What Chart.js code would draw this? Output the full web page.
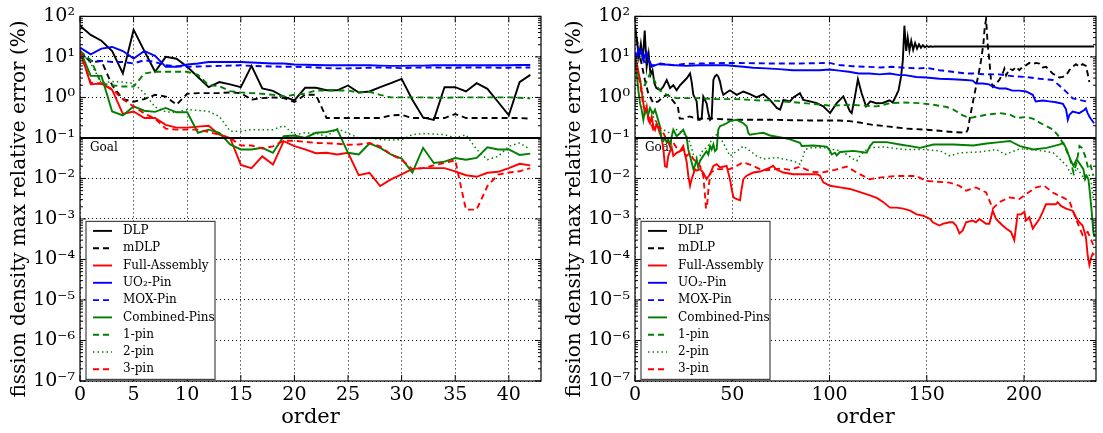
<!DOCTYPE html>
<html>
<head>
<meta charset="utf-8">
<script src="https://cdn.jsdelivr.net/npm/chart.js@4.4.0/dist/chart.umd.min.js"></script>
<style>
  body { margin: 0; background: #fff; }
  #wrap { position: relative; width: 1103px; height: 433px; }
  canvas { position: absolute; top: 0; }
  #leftChart { left: 0; }
  #rightChart { left: 552px; }
</style>
</head>
<body>
<div id="wrap">
  <canvas id="leftChart" width="552" height="433" style="width:552px;height:433px"></canvas>
  <canvas id="rightChart" width="551" height="433" style="width:551px;height:433px"></canvas>
</div>
<script>
const SERIF = "'DejaVu Serif', 'Liberation Serif', serif";

// legend / styles
const seriesNames = ["DLP", "mDLP", "Full-Assembly", "UO\u2082-Pin", "MOX-Pin", "Combined-Pins", "1-pin", "2-pin", "3-pin"];
const seriesColors = ["#000000", "#000000", "#ff0000", "#0000ff", "#0000ff", "#008000", "#008000", "#008000", "#ff0000"];
const seriesDash = [[], [6, 4], [], [], [6, 4], [], [6, 4], [1.5, 3], [6, 4]];
const seriesWidth = [1.9, 1.9, 1.9, 1.9, 1.9, 1.9, 1.9, 1.5, 1.9];

const yTitle = "fission density max relative error (%)";
const yTickExponents = [2, 1, 0, -1, -2, -3, -4, -5, -6, -7];
const leftXTicks = [0, 5, 10, 15, 20, 25, 30, 35, 40];
const rightXTicks = [0, 50, 100, 150, 200];
const goalValue = 0.1;

// left panel: order 0..42
const leftOrder = [0,1,2,3,4,5,6,7,8,9,10,11,12,13,14,15,16,17,18,19,20,21,22,23,24,25,26,27,28,29,30,31,32,33,34,35,36,37,38,39,40,41,42];
const leftDLP = [59,35,25,14,3.9,47,14,4.3,10,9,5.7,3.2,1.8,2.4,2.1,1.8,6,1.66,1.45,1.04,0.85,1.73,1.73,1.5,1.5,1.97,1.32,1.4,1.79,2.24,2.87,0.88,0.32,0.28,1.79,1.79,1.4,2.24,1.63,0.77,0.36,2.38,3.6];
const leftMDLP = [14,7.4,7.9,2.0,0.91,0.78,0.91,1.16,1.05,0.66,1.23,1.28,1.28,1.28,1.33,1.28,0.88,0.96,1.0,0.96,0.77,1.16,1.16,0.31,0.31,0.31,0.31,0.31,0.31,0.36,0.37,0.31,0.31,0.31,0.31,0.39,0.31,0.31,0.31,0.31,0.31,0.31,0.30];
const leftFull = [14,2.1,2.2,1.54,0.39,0.45,0.31,0.31,0.21,0.18,0.18,0.19,0.20,0.12,0.10,0.0216,0.018,0.035,0.022,0.083,0.063,0.052,0.042,0.043,0.039,0.043,0.012,0.0138,0.0065,0.0095,0.0126,0.0172,0.018,0.018,0.018,0.015,0.012,0.011,0.0138,0.0146,0.018,0.023,0.021];
const leftUO2 = [17,11.6,16,17.6,14,9.1,14,10.6,5.7,5.7,6.5,6.9,7.5,7.5,7.5,7.5,7.3,7.1,6.9,6.9,6.5,6.4,6.3,6.2,6.2,6.2,6.2,6.2,6.1,6.0,6.0,6.1,6.1,6.2,6.2,6.2,6.2,6.2,6.2,6.2,6.2,6.3,6.3];
const leftMOX = [13,8,8,7.5,7.5,6.9,8.3,7.5,6.2,5.9,5.7,5.8,5.9,6.0,6.1,6.2,6.0,5.9,5.8,5.7,5.7,5.6,5.5,5.3,5.2,5.2,5.3,5.4,5.5,5.4,5.3,5.4,5.5,5.5,5.4,5.4,5.5,5.5,5.5,5.4,5.4,5.5,5.5];
const leftComb = [14.7,3.4,3.4,0.45,0.36,0.60,0.47,0.44,0.55,0.43,0.43,0.134,0.16,0.134,0.069,0.052,0.052,0.057,0.043,0.11,0.115,0.10,0.134,0.14,0.16,0.043,0.039,0.073,0.057,0.039,0.031,0.014,0.057,0.024,0.026,0.032,0.029,0.032,0.059,0.052,0.052,0.038,0.041];
const left1pin = [14,8.4,2.2,2.0,1.86,1.86,3.9,4.3,4.3,4.3,4.3,3.6,2.0,1.9,1.43,1.33,1.28,1.23,1.16,1.06,1.16,1.23,1.48,1.48,1.48,1.48,1.32,1.38,1.16,1.0,1.0,1.0,1.0,0.98,0.98,1.0,1.0,1.0,1.0,1.0,1.0,0.98,0.95];
const left2pin = [14,6.9,2.3,2.46,2.4,2.2,1.28,0.58,0.44,0.43,0.50,0.48,0.45,0.34,0.147,0.147,0.16,0.16,0.16,0.20,0.12,0.134,0.13,0.11,0.17,0.13,0.10,0.10,0.091,0.088,0.091,0.12,0.128,0.125,0.12,0.10,0.12,0.052,0.029,0.035,0.062,0.075,0.052];
const left3pin = [14,2.3,2.2,1.6,0.9,0.6,0.4,0.3,0.17,0.16,0.16,0.16,0.14,0.12,0.10,0.065,0.065,0.055,0.062,0.085,0.085,0.08,0.075,0.074,0.072,0.068,0.069,0.075,0.062,0.039,0.029,0.017,0.018,0.021,0.024,0.028,0.0017,0.0017,0.0065,0.0125,0.014,0.015,0.018];

// right panel: [order, value]
const rightDLP = [[0,59],[1,25],[2,10],[3,21],[4,8.3],[5,45],[6,5.7],[7,12],[8,3.6],[9,4.7],[10,2.2],[11,1.7],[13,1.5],[14.6,1.86],[16.3,2.7],[18,1.7],[19.7,2.0],[21.4,1.5],[23.1,2.0],[26.6,2.97],[28.3,3.9],[29.1,2.46],[30,1.16],[31.7,0.8],[32.5,0.28],[33.4,0.28],[34.3,0.31],[35.1,1.05],[36.8,0.72],[37.7,0.41],[38.6,0.28],[39.4,0.31],[40.3,2.7],[41.1,3.3],[42,3.6],[42.8,3.3],[43.7,2.46],[44.6,1.5],[45.4,1.16],[48.8,1.5],[52.3,1.16],[55.7,1.4],[59.1,1.2],[62.5,1.0],[66,1.2],[69.4,0.87],[72.9,0.55],[74.6,0.5],[76.3,0.87],[79.7,0.8],[81.4,1.0],[84.8,1.27],[86.5,0.87],[90,0.8],[93.4,0.72],[96.8,0.6],[100.3,0.41],[103.7,0.72],[107.1,1.06],[110.5,0.45],[111.4,0.41],[113,1.0],[114.6,2.8],[116.5,1.27],[118.8,0.6],[121,0.8],[124,0.72],[127.4,0.73],[130.8,0.85],[132.5,0.75],[134.2,1.1],[135.5,1.5],[136.8,3.3],[137.7,8.2],[138.5,59],[139.4,14],[140.2,30],[141.1,14.5],[142,25],[143,15],[144,22],[145,16],[146,20.5],[147,16.8],[148,19.5],[149,17.3],[150,18.6],[151,17.6],[152,18.3],[153,17.8],[154,18.1],[156,18],[236,18]];
const rightMDLP = [[0,50],[1.7,17],[3.4,6.7],[5.1,2.7],[6.8,1.27],[9.4,0.72],[12,0.8],[14.5,1.05],[17,1.15],[19,0.88],[20.5,0.72],[22,0.6],[23,0.3],[25,0.3],[28,0.34],[31.6,0.3],[40,0.3],[50,0.28],[70,0.28],[90,0.27],[105,0.27],[110.3,0.26],[115.4,0.24],[122.3,0.21],[130.8,0.19],[139.4,0.17],[149.7,0.16],[156.5,0.15],[163.4,0.14],[170.2,0.135],[171.1,0.16],[172.3,0.34],[173.6,0.72],[175.3,1.84],[177,4.7],[177.9,8.2],[179.1,21],[179.8,54],[180.5,86],[181.3,21],[182.2,8.2],[183,2.7],[183.9,1.84],[185.6,2.2],[187.3,2.7],[189,3.9],[189.9,5.1],[190.8,3.5],[192.5,5.1],[194.2,4.7],[195.9,5.7],[197.6,4.7],[199.3,5.7],[201,6.2],[202.7,7.1],[204.5,6.6],[206.2,7.1],[207.9,6.8],[209.6,5.5],[211.3,5.7],[213,4.7],[214.7,3.9],[216.4,3.5],[218.2,3.1],[219.9,3.2],[221.6,3.5],[223.3,4.7],[225,5.7],[226.7,6.6],[228.4,5.7],[230.1,6.6],[231.8,6.0],[232.7,3.9],[233.6,2.4]];
const rightFull = [[0,10],[0.9,6.9],[2.6,2.7],[3.4,1.5],[4.3,0.72],[5.1,0.41],[6,0.6],[6.8,0.28],[7.7,0.23],[8.6,0.34],[9.4,0.195],[10.3,0.16],[11.1,0.23],[12.8,0.13],[13.7,0.1],[14.6,0.052],[15.4,0.02],[16.3,0.019],[17.1,0.036],[18,0.047],[18.9,0.057],[19.7,0.036],[21.4,0.043],[23.1,0.047],[24.8,0.063],[25.7,0.039],[26.6,0.025],[27.4,0.0117],[28.3,0.0066],[29.1,0.0096],[30,0.0128],[30.8,0.017],[31.7,0.0155],[33.4,0.017],[35.1,0.014],[36.8,0.0096],[38.6,0.0128],[40.3,0.0205],[42,0.0225],[43.7,0.0186],[47.1,0.0205],[48.8,0.0096],[49.7,0.0055],[50.6,0.0034],[52.3,0.0031],[54,0.0029],[54.8,0.0055],[55.7,0.0096],[57.4,0.0117],[60.8,0.014],[64.3,0.0148],[69.4,0.0186],[71,0.0205],[72.7,0.0166],[76.2,0.014],[81.4,0.0127],[86.5,0.0127],[93.4,0.0127],[95.1,0.0117],[96.8,0.008],[100.3,0.0066],[105.4,0.006],[110.5,0.0055],[115.7,0.0046],[120.8,0.0038],[124.3,0.0033],[127.7,0.0026],[131.1,0.0019],[134.5,0.0019],[137.9,0.0018],[141.4,0.0016],[144.8,0.0013],[148.2,0.0012],[151.7,0.001],[153.1,0.00083],[156.5,0.00069],[158.2,0.00076],[161.6,0.00083],[163.4,0.00083],[165.1,0.00069],[166.8,0.00044],[168.5,0.00052],[170.2,0.00083],[173.6,0.00091],[175.3,0.00083],[177,0.001],[180.5,0.00076],[182.2,0.00076],[183.9,0.0016],[185.6,0.001],[187.3,0.00083],[189,0.00069],[190.8,0.00058],[193.3,0.00048],[195,0.0003],[196.7,0.0013],[198.5,0.0013],[200.2,0.0015],[201,0.00091],[202.7,0.0011],[204.5,0.00058],[206.2,0.00076],[207.9,0.001],[209.6,0.0015],[211.3,0.0023],[213,0.0023],[216.4,0.0023],[217.3,0.0026],[219,0.0021],[221.6,0.0018],[225,0.0016],[226.7,0.0011],[228.4,0.00083],[230.1,0.00069],[231.8,0.00036],[232.7,0.00013],[233.6,0.000073],[234.5,0.00011],[235.3,0.00014],[236.1,0.00013]];
const rightUO2 = [[0,13],[0.9,10],[1.7,16],[2.6,12],[3.4,14.6],[4.3,8.3],[5.1,11],[6,13],[6.8,9],[7.7,7.5],[8.5,6.2],[10.3,6.2],[12,6.6],[14.5,6.5],[18,6.4],[21,6.2],[26.5,6.0],[33,6.2],[47,6.2],[55.6,5.7],[60.7,5.4],[67.5,5.2],[74,5.0],[81,4.7],[95,4.7],[100,4.9],[105,4.6],[110,4.3],[115,3.9],[120.5,3.9],[125.7,3.7],[131,3.9],[136,3.55],[139,3.55],[144.5,3.2],[149.7,3.1],[156.5,2.9],[163.4,2.8],[170,2.7],[173.6,2.6],[175.3,2.2],[178.8,2.2],[182,2.1],[184,1.84],[187.3,1.66],[190.8,1.66],[194,1.47],[197.6,1.47],[201,1.4],[204.5,1.16],[206,0.8],[209.6,0.84],[213,0.8],[216.4,0.76],[220,0.69],[221.6,0.51],[222.5,0.28],[223.3,0.37],[225,0.45],[228.4,0.41],[231,0.49],[231.8,0.54],[232.7,0.41],[233.6,0.34],[234.5,0.29],[236,0.23]];
const rightMOX = [[0,12],[2,10],[4,9],[5,7.5],[7,7],[8.5,5.7],[10,6.2],[13,6.9],[16,6.5],[20,6.2],[25,6.7],[33,6.9],[50,7.1],[68,6.9],[85,6.9],[100,7.1],[105,6.3],[112,5.9],[119,5.7],[126,5.5],[132,5.7],[139,5.4],[146,5.2],[150,5.4],[156.5,4.7],[163,4.3],[170,3.9],[173.6,3.9],[180.5,3.7],[187,3.7],[194,3.35],[201,3.2],[208,2.9],[214.7,2.7],[218,2.0],[221.6,1.39],[225,0.95],[228.4,0.87],[231.8,0.8],[233.6,0.72]];
const rightComb = [[0,10],[1.7,1.5],[2.6,0.72],[3.4,0.5],[4.3,0.28],[5.1,0.5],[6,0.45],[6.8,0.375],[7.7,0.55],[8.6,0.45],[9.4,0.41],[10.3,0.5],[11.1,0.375],[12.8,0.195],[13.7,0.092],[14.6,0.084],[15.4,0.1],[16.3,0.076],[17.1,0.092],[18,0.063],[18.9,0.11],[19.7,0.16],[21.4,0.11],[23.1,0.13],[24.8,0.16],[26.6,0.1],[27.4,0.052],[28.3,0.036],[29.1,0.025],[30,0.017],[30.8,0.0205],[31.7,0.03],[32.5,0.0186],[33.4,0.027],[35.1,0.036],[36.8,0.047],[37.7,0.039],[38.6,0.063],[39.4,0.052],[40.3,0.069],[41.1,0.047],[42,0.052],[42.8,0.16],[43.7,0.195],[45.4,0.21],[47.1,0.23],[48.8,0.26],[52.3,0.28],[55.7,0.23],[57.4,0.195],[58.3,0.13],[59.1,0.12],[62.5,0.128],[66,0.134],[69.4,0.115],[72.9,0.107],[76.3,0.1],[79.7,0.092],[84.8,0.076],[85.7,0.063],[91.7,0.065],[98.5,0.061],[100.3,0.048],[101.1,0.039],[102.8,0.043],[103.7,0.037],[105.4,0.045],[112.3,0.048],[119.1,0.043],[120.8,0.063],[122.5,0.079],[129.3,0.079],[136.2,0.069],[143,0.061],[146.5,0.057],[153.4,0.069],[163.7,0.069],[173.9,0.065],[180.8,0.073],[187.6,0.079],[192.8,0.084],[194.5,0.076],[197.9,0.063],[204.8,0.052],[211.6,0.057],[218.5,0.069],[220.2,0.076],[221.9,0.052],[223.7,0.03],[225.4,0.0205],[227.1,0.03],[228.8,0.0225],[230.5,0.017],[231.4,0.0096],[232.2,0.0117],[233.1,0.0096],[234,0.0038],[234.8,0.0015],[235.6,0.00048],[236.3,0.00036]];
const right1pin = [[0,10],[1.7,3.3],[3.4,2.2],[5.1,2.0],[7.7,3.9],[9.4,3.0],[11.1,2.0],[12.8,1.5],[14.6,1.27],[18,1.06],[21.4,0.96],[31.7,0.96],[42,0.91],[52.3,0.91],[64.3,0.84],[69.4,0.85],[83.1,0.75],[96.8,0.66],[100.3,0.62],[110.5,0.66],[124.3,0.6],[131.1,0.72],[138,0.75],[146.5,0.72],[153.4,0.66],[160.3,0.58],[163.7,0.5],[168.8,0.355],[172.2,0.31],[180.8,0.375],[187.6,0.41],[192.8,0.375],[196.2,0.31],[201.3,0.33],[204.8,0.295],[208.2,0.235],[211.6,0.195],[215,0.16],[218.5,0.1],[221.9,0.048],[223.7,0.03],[225.4,0.014],[227.1,0.025],[228.5,0.063],[229.7,0.057],[231.4,0.036],[233.1,0.017],[234.3,0.0205],[235.6,0.0117]];
const right2pin = [[0,10],[0.9,4.7],[2.6,2.7],[4.3,1.05],[6,0.6],[7.7,0.5],[9.4,0.34],[11.1,0.23],[12.8,0.18],[14.6,0.16],[18,0.13],[21.4,0.16],[24.8,0.13],[26.6,0.11],[28.3,0.076],[30,0.039],[31.7,0.033],[33.4,0.036],[35.1,0.052],[36.8,0.057],[38.6,0.076],[40.3,0.11],[42,0.12],[43.7,0.1],[45.4,0.076],[47.1,0.052],[48.8,0.036],[52.3,0.047],[55.7,0.063],[59.1,0.048],[62.5,0.036],[66,0.03],[72.9,0.033],[76.3,0.03],[81.4,0.027],[84.8,0.0225],[86.5,0.036],[87.4,0.052],[90.8,0.057],[98.5,0.057],[101.9,0.052],[105.4,0.048],[108.8,0.039],[112.3,0.03],[114,0.027],[115.7,0.036],[118.2,0.048],[120.8,0.057],[127.7,0.06],[138,0.052],[148.2,0.052],[156.8,0.048],[161.9,0.036],[167,0.043],[177.3,0.045],[185.9,0.052],[190.2,0.039],[197.9,0.054],[206.5,0.05],[215,0.043],[218.5,0.03],[221.9,0.0205],[223.7,0.014],[225.4,0.0117],[227.1,0.0186],[230.5,0.0106],[232.2,0.0128],[234,0.0117],[234.8,0.0066],[235.6,0.0031]];
const right3pin = [[0,10],[0.9,5.7],[2.6,2.2],[4.3,0.6],[6,0.41],[7.7,0.28],[9.4,0.16],[11.1,0.195],[12.8,0.18],[14.6,0.13],[16.3,0.092],[18,0.063],[19.7,0.076],[21.4,0.057],[23.1,0.047],[24.8,0.052],[26.6,0.036],[28.3,0.043],[30,0.03],[31.7,0.025],[33.4,0.0205],[35.1,0.0117],[36,0.0038],[36.5,0.0018],[37.2,0.0026],[37.9,0.0066],[38.9,0.014],[42,0.017],[48.8,0.017],[52.3,0.0205],[55.7,0.025],[59.1,0.022],[62.5,0.0186],[64.3,0.017],[68,0.016],[72,0.017],[75.4,0.0176],[79.7,0.0163],[84.8,0.0194],[90.8,0.0146],[96,0.014],[102.8,0.0163],[108.8,0.0196],[114.8,0.0133],[120.5,0.0096],[125.7,0.0105],[134,0.0115],[144.5,0.0115],[149.7,0.0087],[161.6,0.0079],[166.8,0.0066],[170.2,0.005],[175.3,0.006],[180.5,0.0045],[183.9,0.0018],[187.3,0.0026],[192.5,0.0034],[197.6,0.0031],[201,0.0041],[206.2,0.006],[210.4,0.0066],[214.7,0.0045],[219.9,0.0034],[223.3,0.0028],[226.7,0.001],[230.1,0.0004],[232.7,0.00048],[234,0.00035],[235.6,0.00023]];

const SUP = { "-": "\u207B", "0": "\u2070", "1": "\u00B9", "2": "\u00B2", "3": "\u00B3", "4": "\u2074", "5": "\u2075", "6": "\u2076", "7": "\u2077", "8": "\u2078", "9": "\u2079" };
function powerLabel(v) {
  const e = Math.round(Math.log10(v));
  return "10" + String(e).split("").map((c) => SUP[c]).join("");
}

function makeDatasets(seriesPoints) {
  return seriesPoints.map((pts, i) => ({
    label: seriesNames[i],
    data: pts.map((p) => ({ x: p[0], y: p[1] })),
    borderColor: seriesColors[i],
    borderDash: seriesDash[i],
    borderWidth: seriesWidth[i],
    pointRadius: 0,
    fill: false,
    tension: 0,
    order: seriesNames.length - i,
  }));
}

// cadre + graduations vers l'interieur
const framePlugin = {
  id: "frame",
  afterDraw(chart) {
    const { ctx, chartArea: a, scales } = chart;
    ctx.save();
    ctx.strokeStyle = "#000";
    ctx.lineWidth = 1.2;
    ctx.setLineDash([]);
    ctx.strokeRect(a.left, a.top, a.right - a.left, a.bottom - a.top);
    ctx.lineWidth = 1;
    ctx.beginPath();
    yTickExponents.forEach((e) => {
      const y = scales.y.getPixelForValue(Math.pow(10, e));
      ctx.moveTo(a.left, y); ctx.lineTo(a.left + 6, y);
      ctx.moveTo(a.right, y); ctx.lineTo(a.right - 6, y);
      if (e > -7) {
        for (let k = 2; k <= 9; k++) {
          const ym = scales.y.getPixelForValue(k * Math.pow(10, e - 1));
          ctx.moveTo(a.left, ym); ctx.lineTo(a.left + 3, ym);
          ctx.moveTo(a.right, ym); ctx.lineTo(a.right - 3, ym);
        }
      }
    });
    scales.x.ticks.forEach((t) => {
      const x = scales.x.getPixelForValue(t.value);
      ctx.moveTo(x, a.bottom); ctx.lineTo(x, a.bottom - 6);
      ctx.moveTo(x, a.top); ctx.lineTo(x, a.top + 6);
    });
    ctx.stroke();

    // titre vertical (place un peu plus bas que le centre, comme l'original)
    ctx.fillStyle = "#000";
    ctx.font = "20px " + SERIF;
    ctx.textAlign = "center";
    ctx.textBaseline = "middle";
    ctx.translate(chart.options.yTitleX, 209);
    ctx.rotate(-Math.PI / 2);
    ctx.fillText(yTitle, 0, 0);
    ctx.restore();
  },
};

// ligne "Goal"
const goalPlugin = {
  id: "goal",
  beforeDatasetsDraw(chart) {
    const { ctx, chartArea: a, scales } = chart;
    const y = scales.y.getPixelForValue(goalValue);
    ctx.save();
    ctx.fillStyle = "#000";
    ctx.font = "12px " + SERIF;
    ctx.textBaseline = "middle";
    ctx.fillText("Goal", a.left + 10, y + 10);
    ctx.restore();
  },
  afterDatasetsDraw(chart) {
    const { ctx, chartArea: a, scales } = chart;
    const y = scales.y.getPixelForValue(goalValue);
    ctx.save();
    ctx.strokeStyle = "#000";
    ctx.lineWidth = 2;
    ctx.beginPath();
    ctx.moveTo(a.left, y);
    ctx.lineTo(a.right, y);
    ctx.stroke();
    ctx.restore();
  },
};

// legende dans le graphe, en bas a gauche
const legendPlugin = {
  id: "boxLegend",
  afterDraw(chart) {
    const { ctx, chartArea: a } = chart;
    const x0 = a.left + 6, y0 = a.top + 205, w = 129, h = 158;
    ctx.save();
    ctx.fillStyle = "#fff";
    ctx.fillRect(x0, y0, w, h);
    ctx.strokeStyle = "#444";
    ctx.lineWidth = 1.2;
    ctx.setLineDash([]);
    ctx.strokeRect(x0, y0, w, h);
    ctx.font = "12px " + SERIF;
    ctx.textBaseline = "middle";
    seriesNames.forEach((name, i) => {
      const y = y0 + 9.5 + i * 17.3;
      ctx.strokeStyle = seriesColors[i];
      ctx.lineWidth = seriesWidth[i];
      ctx.setLineDash(seriesDash[i]);
      ctx.beginPath();
      ctx.moveTo(x0 + 7, y);
      ctx.lineTo(x0 + 26, y);
      ctx.stroke();
      ctx.setLineDash([]);
      ctx.fillStyle = "#000";
      ctx.fillText(name, x0 + 37, y);
    });
    ctx.restore();
  },
};

function buildOptions(xMax, xTicks, yWidth, titleX, padRight) {
  return {
    responsive: false,
    animation: false,
    yTitleX: titleX,
    layout: { padding: { top: 12, right: padRight, left: 0, bottom: 0 } },
    plugins: { legend: { display: false }, tooltip: { enabled: false } },
    scales: {
      x: {
        type: "linear",
        min: 0,
        max: xMax,
        afterBuildTicks: (s) => { s.ticks = xTicks.map((v) => ({ value: v })); },
        afterFit: (s) => { s.height = 52; },
        grid: { color: "#000", lineWidth: 1, drawTicks: false },
        border: { display: false, dash: [1, 3] },
        ticks: { color: "#000", font: { family: SERIF, size: 19 }, padding: 3, maxRotation: 0, autoSkip: false },
        title: { display: true, text: "order", color: "#000", font: { family: SERIF, size: 21 }, padding: { top: 0, bottom: 3 } },
      },
      y: {
        type: "logarithmic",
        min: 1e-7,
        max: 100,
        afterBuildTicks: (s) => { s.ticks = yTickExponents.map((e) => ({ value: Math.pow(10, e) })); },
        afterFit: (s) => { s.width = yWidth; },
        grid: { color: "#000", lineWidth: 1, drawTicks: false },
        border: { display: false, dash: [1, 3] },
        ticks: { color: "#000", font: { family: SERIF, size: 19 }, padding: 5, autoSkip: false, callback: (v) => powerLabel(v) },
        title: { display: false },
      },
    },
  };
}

const leftSeries = [leftDLP, leftMDLP, leftFull, leftUO2, leftMOX, leftComb, left1pin, left2pin, left3pin]
  .map((vals) => vals.map((v, k) => [leftOrder[k], v]));
const rightSeries = [rightDLP, rightMDLP, rightFull, rightUO2, rightMOX, rightComb, right1pin, right2pin, right3pin];

new Chart(document.getElementById("leftChart").getContext("2d"), {
  type: "line",
  data: { datasets: makeDatasets(leftSeries) },
  options: buildOptions(43, leftXTicks, 80, 20, 11),
  plugins: [goalPlugin, framePlugin, legendPlugin],
});

new Chart(document.getElementById("rightChart").getContext("2d"), {
  type: "line",
  data: { datasets: makeDatasets(rightSeries) },
  options: buildOptions(237, rightXTicks, 83, 23, 7),
  plugins: [goalPlugin, framePlugin, legendPlugin],
});
</script>
</body>
</html>
